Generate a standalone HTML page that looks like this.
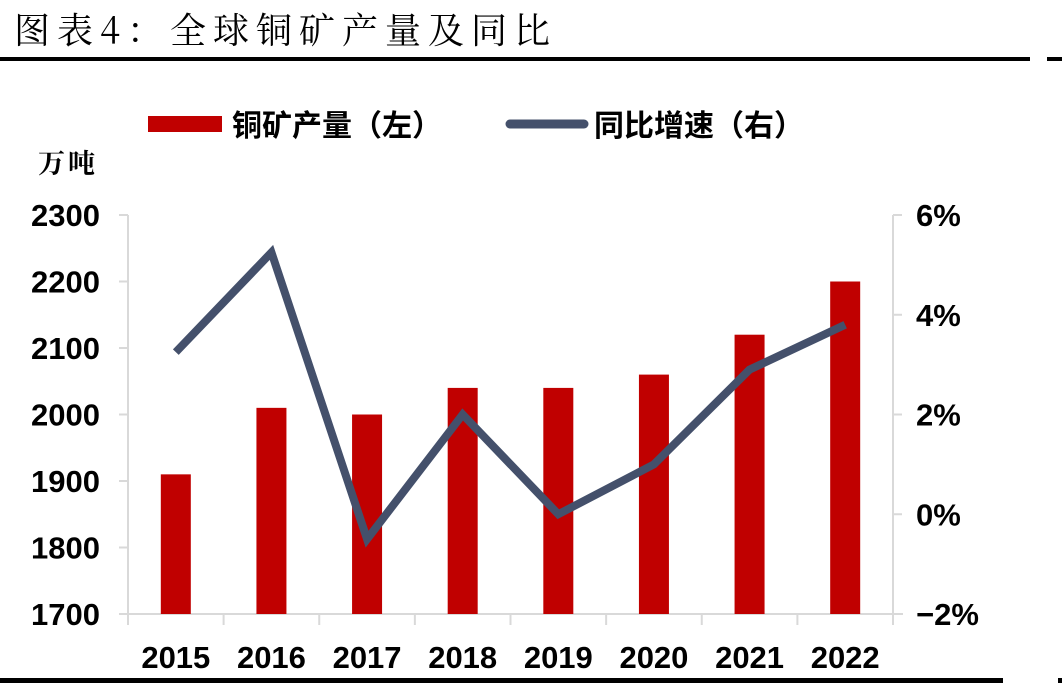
<!DOCTYPE html>
<html><head><meta charset="utf-8"><style>
body{margin:0;background:#fff;width:1062px;height:685px;overflow:hidden;font-family:"Liberation Sans","Noto Sans CJK SC",sans-serif}
</style></head><body>
<svg width="1062" height="685" xmlns="http://www.w3.org/2000/svg">
<text x="14" y="43" font-size="36" letter-spacing="7" font-family="'Noto Serif CJK SC','Noto Sans CJK SC',serif" fill="#000">图表4：全球铜矿产量及同比</text>
<rect x="0" y="57" width="1030" height="4" fill="#000"/>
<rect x="1047" y="57" width="15" height="4" fill="#000"/>
<rect x="0" y="678" width="1003" height="5" fill="#000"/>
<rect x="1058" y="678" width="4" height="5" fill="#000"/>
<g>
<rect x="148" y="116" width="74" height="16" fill="#C00000"/>
<text x="232" y="136" font-size="30" font-weight="bold">铜矿产量（左）</text>
<line x1="510" y1="124" x2="584" y2="124" stroke="#44506B" stroke-width="9" stroke-linecap="round"/>
<text x="594" y="136" font-size="30" font-weight="bold">同比增速（右）</text>
</g>
<text x="38" y="173" font-size="27" font-weight="bold" letter-spacing="3" font-family="'Noto Serif CJK SC',serif">万吨</text>
<g id="axes"></g>
<g id="marks"></g>
</svg>
<script>
const categories=["2015","2016","2017","2018","2019","2020","2021","2022"];
const production=[1910,2010,2000,2040,2040,2060,2120,2200];
const growth=[3.25,5.25,-0.5,2.0,0.0,1.0,2.9,3.8];
const leftTicks=[1700,1800,1900,2000,2100,2200,2300];
const rightTicks=[-2,0,2,4,6];
const NS="http://www.w3.org/2000/svg";
const X0=128,X1=893,YT=215,YB=614;
const step=(X1-X0)/categories.length;
const xc=i=>X0+step*(i+0.5);
const yL=v=>YB-(v-1700)/(2300-1700)*(YB-YT);
const yR=v=>YB-(v+2)/8*(YB-YT);
function mk(tag,attrs,parent){const e=document.createElementNS(NS,tag);for(const k in attrs)e.setAttribute(k,attrs[k]);parent.appendChild(e);return e;}
const axes=document.getElementById('axes'),marks=document.getElementById('marks');
const g="#D9D9D9";
let e;
e=mk('line',{x1:X0,y1:YT,x2:X0,y2:YB,stroke:g,'stroke-width':2},axes);


e=mk('line',{x1:X1,y1:YT,x2:X1,y2:YB,stroke:g,'stroke-width':2},axes);


e=mk('line',{x1:X0,y1:YB,x2:X1+10,y2:YB,stroke:g,'stroke-width':2},axes);


leftTicks.forEach(v=>{
 let t=mk('line',{x1:X0-9,y1:yL(v),x2:X0,y2:yL(v),stroke:g,'stroke-width':2},axes);
 
 
 let l=mk('text',{x:X0-28,y:yL(v)+11,'text-anchor':'end','font-size':31,'font-weight':'bold'},axes);
 l.textContent=v;
 
 
});
rightTicks.forEach(v=>{
 let t=mk('line',{x1:X1,y1:yR(v),x2:X1+9,y2:yR(v),stroke:g,'stroke-width':2},axes);
 
 
 let l=mk('text',{x:X1+23,y:yR(v)+11,'font-size':31,'font-weight':'bold'},axes);
 l.textContent=(v<0?'−'+(-v):v)+'%';
 
 
});
for(let i=0;i<=categories.length;i++){
 let t=mk('line',{x1:X0+step*i,y1:YB,x2:X0+step*i,y2:YB+11,stroke:g,'stroke-width':2},axes);
 
 
}
categories.forEach((c,i)=>{
 let l=mk('text',{x:xc(i),y:668,'text-anchor':'middle','font-size':31,'font-weight':'bold'},axes);
 l.textContent=c;
 
 
});
production.forEach((v,i)=>{
 let b=mk('rect',{x:xc(i)-15,y:yL(v),width:30,height:YB-yL(v),fill:'#C00000'},marks);
 
 
});
const pts=growth.map((v,i)=>xc(i)+','+yR(v)).join(' ');
let pl=mk('polyline',{points:pts,fill:'none',stroke:'#44506B','stroke-width':8,'stroke-linejoin':'miter','stroke-linecap':'butt'},marks);


</script>
</body></html>
